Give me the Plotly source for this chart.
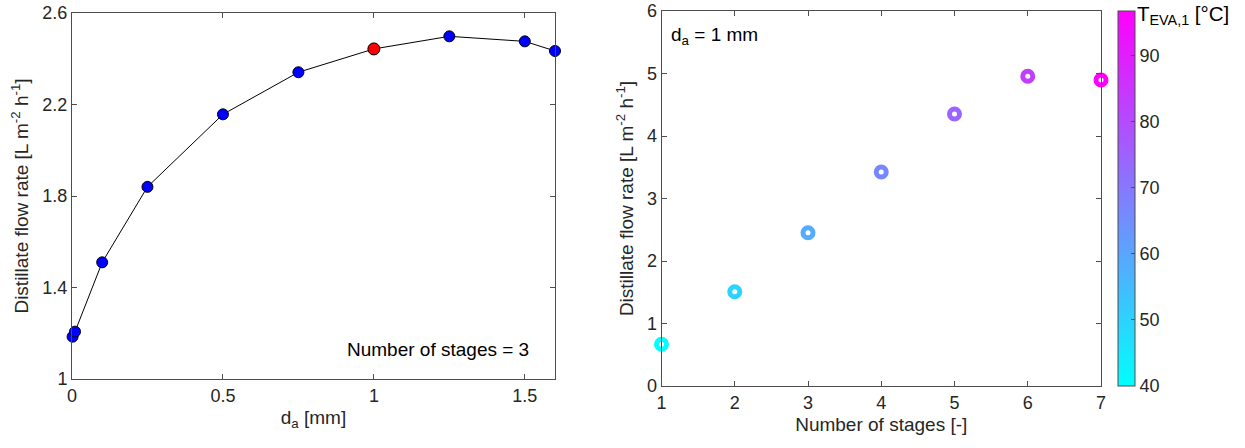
import plotly.graph_objects as go

# ---- data ----
da_mm = [0.002, 0.01, 0.1, 0.25, 0.5, 0.75, 1.0, 1.25, 1.5, 1.6]
flow_da = [1.185, 1.207, 1.51, 1.84, 2.157, 2.341, 2.443, 2.498, 2.476, 2.434]
highlight_idx = 6  # d_a = 1 mm (used in right panel)

stages = [1, 2, 3, 4, 5, 6, 7]
flow_stages = [0.667, 1.509, 2.453, 3.424, 4.352, 4.955, 4.896]
t_eva1 = [40.0, 49.5, 58.5, 66.5, 74.5, 83.0, 96.8]

left_xticks = [0, 0.5, 1, 1.5]
left_yticks = [1, 1.4, 1.8, 2.2, 2.6]
right_xticks = [1, 2, 3, 4, 5, 6, 7]
right_yticks = [0, 1, 2, 3, 4, 5, 6]
cbar_ticks = [40, 50, 60, 70, 80, 90]

W, H = 1245, 448
FONT = "Liberation Sans, Arial, sans-serif"
TXT = "#262626"
AX = "#4d4d4d"


def px(x):
    return x / W


def py(y):
    return 1 - y / H


fig = go.Figure()

fig.add_trace(go.Scatter(
    x=da_mm, y=flow_da, mode="lines+markers",
    line=dict(color="black", width=1),
    marker=dict(color="#0000ff", size=11, line=dict(color="black", width=1)),
    xaxis="x", yaxis="y", cliponaxis=False, showlegend=False))

fig.add_trace(go.Scatter(
    x=[da_mm[highlight_idx]], y=[flow_da[highlight_idx]], mode="markers",
    marker=dict(color="#ff0000", size=12, line=dict(color="black", width=1)),
    xaxis="x", yaxis="y", cliponaxis=False, showlegend=False))

fig.add_trace(go.Scatter(
    x=stages, y=flow_stages, mode="markers",
    marker=dict(symbol="circle-open", size=10, color=t_eva1,
                colorscale=[[0, "#00ffff"], [1, "#ff00ff"]],
                cmin=40, cmax=96.8, line=dict(width=5),
                colorbar=dict(
                    x=px(1117.5), xanchor="left", xref="paper", xpad=0,
                    y=py(386), yanchor="bottom", len=375 / H, lenmode="fraction", ypad=0,
                    thickness=17, thicknessmode="pixels",
                    outlinecolor=AX, outlinewidth=1,
                    tickvals=cbar_ticks, ticks="inside", ticklen=4, tickcolor=AX,
                    tickfont=dict(family=FONT, size=18, color=TXT),
                )),
    xaxis="x2", yaxis="y2", cliponaxis=False, showlegend=False))

axis_common = dict(
    showgrid=False, zeroline=False, showline=True, mirror="ticks",
    linecolor=AX, linewidth=1, ticks="inside", ticklen=5, tickcolor=AX,
    tickfont=dict(family=FONT, size=18, color=TXT),
    title_font=dict(family=FONT, size=19, color=TXT),
    ticklabeloverflow="allow",
)

fig.update_layout(
    width=W, height=H,
    margin=dict(l=0, r=0, t=0, b=0, autoexpand=False),
    paper_bgcolor="white", plot_bgcolor="white",
    font=dict(family=FONT, color=TXT),
    hovermode=False,
    xaxis=dict(domain=[px(72), px(555)], range=[0, 1.6], tickvals=left_xticks,
               ticktext=[str(v) for v in left_xticks], anchor="y",
               title=dict(text="d<sub>a</sub> [mm]", standoff=6), **axis_common),
    yaxis=dict(domain=[py(379), py(13)], range=[1, 2.6], tickvals=left_yticks,
               ticktext=[str(v) for v in left_yticks], anchor="x",
               title=dict(text="Distillate flow rate [L m<sup>-2</sup> h<sup>-1</sup>]", standoff=8),
               **axis_common),
    xaxis2=dict(domain=[px(661.5), px(1101)], range=[1, 7], tickvals=right_xticks, anchor="y2",
                title=dict(text="Number of stages [-]", standoff=6), **axis_common),
    yaxis2=dict(domain=[py(386), py(11)], range=[0, 6], tickvals=right_yticks, anchor="x2",
                title=dict(text="Distillate flow rate [L m<sup>-2</sup> h<sup>-1</sup>]", standoff=8),
                **axis_common),
    annotations=[
        dict(text="Number of stages = 3", x=1.52, y=1.127, xref="x", yref="y",
             xanchor="right", yanchor="middle", showarrow=False,
             font=dict(family=FONT, size=19, color="black")),
        dict(text="d<sub>a</sub> = 1 mm", x=1.1, y=5.82, xref="x2", yref="y2",
             xanchor="left", yanchor="top", showarrow=False,
             font=dict(family=FONT, size=19, color="black")),
        dict(text="T<sub>EVA,1</sub> [°C]", x=px(1135), y=1.0, xref="paper", yref="paper",
             xanchor="left", yanchor="top", showarrow=False,
             font=dict(family=FONT, size=20.5, color="black")),
    ],
)

fig.write_html("out.html",
               config={"displayModeBar": False},
               post_script="document.body.style.margin='0';document.body.style.overflow='hidden';")
